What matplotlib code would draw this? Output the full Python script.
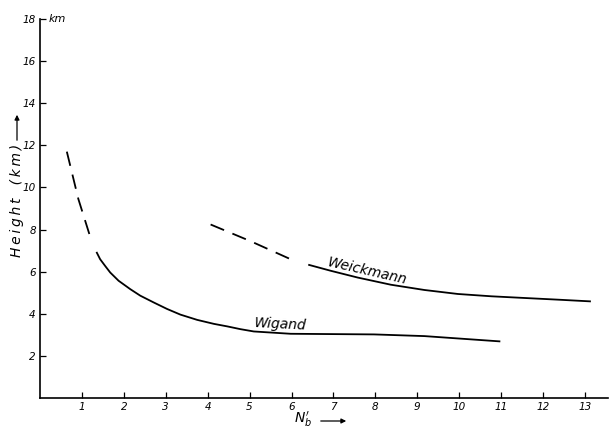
import numpy as np
import matplotlib.pyplot as plt

plt.rcParams['lines.scale_dashes'] = False

# Wigand curve (dashed upper part, solid lower part)
wig_dash_x = [0.64, 0.915, 1.2]
wig_dash_y = [11.7, 9.45, 7.64]
wig_x = [1.356, 1.435, 1.555, 1.675, 1.874, 2.153, 2.392, 2.71, 3.03, 3.35, 3.75,
         4.15, 4.47, 4.78, 5.10, 5.98, 7.97, 9.17, 10.96]
wig_y = [6.90, 6.59, 6.27, 5.96, 5.57, 5.17, 4.86, 4.54, 4.23, 3.96, 3.71,
         3.52, 3.40, 3.27, 3.16, 3.05, 3.02, 2.94, 2.69]

# Weickmann curve
wei_dash_x = [4.07, 5.02, 5.98]
wei_dash_y = [8.24, 7.45, 6.59]
wei_x = [6.42, 6.94, 7.58, 8.37, 9.17, 9.97, 10.77, 11.56, 12.36, 13.12]
wei_y = [6.32, 6.04, 5.72, 5.38, 5.13, 4.94, 4.83, 4.75, 4.67, 4.59]

xticks = list(range(1, 14))
yticks = [2, 4, 6, 8, 10, 12, 14, 16, 18]

fig = plt.figure(figsize=(6.16, 4.32), dpi=100)
ax = fig.add_axes([40/616, 34/432, 568/616, 379/432])

ax.plot(wig_dash_x, wig_dash_y, color='black', lw=1.3, dashes=(10.5, 6.5))
ax.plot(wig_x, wig_y, color='black', lw=1.3)
ax.plot(wei_dash_x, wei_dash_y, color='black', lw=1.3, dashes=(10.5, 6.5))
ax.plot(wei_x, wei_y, color='black', lw=1.3)

ax.text(7.8, 6.0, 'Weickmann', rotation=-13, style='italic', fontsize=10,
        ha='center', va='center')
ax.text(5.74, 3.52, 'Wigand', rotation=-3, style='italic', fontsize=10,
        ha='center', va='center')

ax.set_xlim(0, 13.55)
ax.set_ylim(0, 18)
ax.spines['top'].set_visible(False)
ax.spines['right'].set_visible(False)
for s in ['left', 'bottom']:
    ax.spines[s].set_linewidth(1.2)

ax.set_xticks(xticks)
ax.set_yticks(yticks)
ax.tick_params(direction='in', length=4, width=0.9, labelsize=7.5, pad=3)
for lab in ax.get_xticklabels() + ax.get_yticklabels():
    lab.set_style('italic')

ax.text(0.2, 18, 'km', style='italic', fontsize=8, va='center', ha='left')

# axis labels with arrows
ylab = '\u2009'.join('Height') + '   (\u2009k\u2009m\u2009)'
fig.text(17/616, 1 - 200/432, ylab, rotation=90, style='italic',
         fontsize=10, ha='center', va='center')
fig.add_artist(plt.Annotation('', xy=(17/616, 1 - 112/432), xytext=(17/616, 1 - 143/432),
                              xycoords='figure fraction',
                              arrowprops=dict(arrowstyle='-|>', color='black', lw=0.9,
                                              mutation_scale=7)))
fig.text(303/616, 1 - 419/432, "$N_b'$", fontsize=10, ha='center', va='center')
fig.add_artist(plt.Annotation('', xy=(349/616, 1 - 421/432), xytext=(318/616, 1 - 421/432),
                              xycoords='figure fraction',
                              arrowprops=dict(arrowstyle='-|>', color='black', lw=0.9,
                                              mutation_scale=7)))

fig.savefig('out.png', dpi=100)
